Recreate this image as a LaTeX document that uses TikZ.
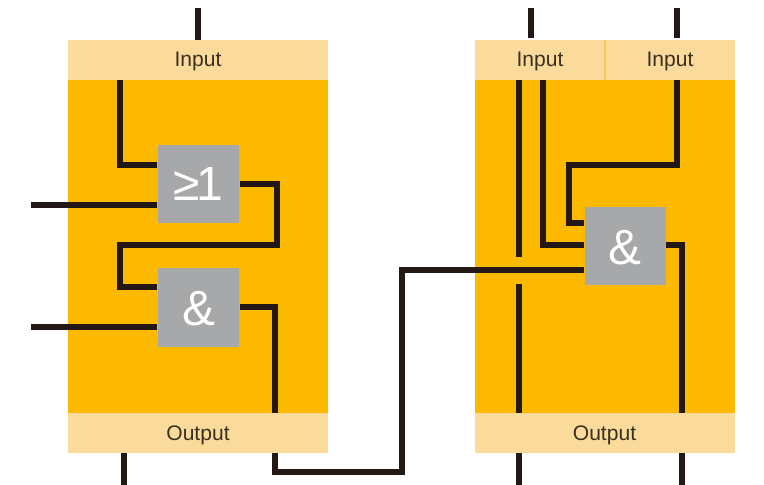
\documentclass[tikz,border=0pt]{standalone}
\usepackage{fontspec}
\setmainfont{Liberation Sans}
\definecolor{bodyc}{HTML}{FDB900}
\definecolor{bandc}{HTML}{FBDB9B}
\definecolor{gatec}{HTML}{A7A8AA}
\definecolor{wirec}{HTML}{231815}
\definecolor{splitc}{HTML}{FCC550}
\definecolor{labelc}{HTML}{3A3020}
\begin{document}
\begin{tikzpicture}[x=0.75pt,y=-0.75pt,
  every node/.style={inner sep=0pt,outer sep=0pt},
  band/.style={fill=bandc,minimum height=30pt,text=labelc,text height=10.5pt,text depth=0pt,font=\fontsize{15.8}{17}\selectfont},
  bodybox/.style={fill=bodyc,minimum width=195pt,minimum height=249.75pt},
  gatebox/.style={fill=gatec,minimum width=60.75pt,minimum height=59pt,text=white},
  wire/.style={draw=wirec,line width=5pt,line join=miter,line cap=butt},
  thinwire/.style={wire,line width=4.5pt}]
\useasboundingbox (0,0) rectangle (764,485);
% left module
\node[bodybox] (bodyL) at (198,246.5) {};
\node[band,minimum width=195pt] (inL) at (198,60) {Input};
\node[band,minimum width=195pt] (outL) at (198,433) {Output};
\node[gatebox,font=\fontsize{36}{36}\selectfont,text height=25pt,text depth=0pt] (or) at (198.5,184) {≥\kern-2.5pt 1};
\node[gatebox,font=\fontsize{37}{38}\selectfont,text height=27pt,text depth=0pt] (andL) at (198.5,307.5) {\&};
% right module
\node[bodybox] (bodyR) at (604.5,246.5) {};
\node[band,minimum width=97.5pt] (inRa) at (540,60) {Input};
\node[band,minimum width=97.5pt] (inRb) at (670,60) {Input};
\node[band,minimum width=195pt] (outR) at (604.5,433) {Output};
\draw[splitc,line width=1.5pt] (inRa.north east) -- (inRa.south east);
\node[gatebox,font=\fontsize{37}{38}\selectfont,text height=27pt,text depth=0pt] (andR) at (625,246) {\&};
% free ends
\coordinate (t1) at (198,8);
\coordinate (t1e) at (198,40);
\coordinate (a) at (120,80);
\coordinate (aa) at (157,165);
\coordinate (b) at (31,205);
\coordinate (bb) at (157,205);
\coordinate (c) at (240,184);
\coordinate (cc) at (277,245);
\coordinate (d) at (120,245);
\coordinate (dd) at (157,287);
\coordinate (e) at (31,327);
\coordinate (ee) at (157,327);
\coordinate (f) at (240,307);
\coordinate (ff) at (275,413);
\coordinate (g) at (124,453);
\coordinate (gg) at (124,485);
\coordinate (h) at (275,453);
\coordinate (h1) at (275,472);
\coordinate (h2) at (402,472);
\coordinate (h3) at (402,270);
\coordinate (h4) at (584,270);
\coordinate (t2) at (531,8);
\coordinate (t2e) at (531,38);
\coordinate (t3) at (677,8);
\coordinate (t3e) at (677,38);
\coordinate (k1) at (519,80);
\coordinate (k2) at (519,257);
\coordinate (k3) at (519,284);
\coordinate (k4) at (519,413);
\coordinate (m) at (543,80);
\coordinate (mm) at (584,245);
\coordinate (n) at (677,80);
\coordinate (n1) at (677,165);
\coordinate (n2) at (569,165);
\coordinate (n3) at (569,223);
\coordinate (n4) at (584,223);
\coordinate (o) at (666,245);
\coordinate (oo) at (682,413);
\coordinate (p) at (519,453);
\coordinate (pp) at (519,485);
\coordinate (q) at (682,453);
\coordinate (qq) at (682,485);
% wires, left
\draw[wire] (t1) -- (t1e);
\draw[wire] (a) |- (aa);
\draw[wire] (b) -- (bb);
\draw[wire] (c) -| (cc) -- (d) |- (dd);
\draw[wire] (e) -- (ee);
\draw[wire] (f) -| (ff);
\draw[wire] (g) -- (gg);
\draw[thinwire] (h) -- (h1) -- (h2) -- (h3) -- (h4);
% wires, right
\draw[wire] (t2) -- (t2e);
\draw[wire] (t3) -- (t3e);
\draw[wire] (k1) -- (k2);
\draw[wire] (k3) -- (k4);
\draw[wire] (m) |- (mm);
\draw[wire] (n) -- (n1) -- (n2) -- (n3) -- (n4);
\draw[wire] (o) -| (oo);
\draw[wire] (p) -- (pp);
\draw[wire] (q) -- (qq);
\end{tikzpicture}
\end{document}
